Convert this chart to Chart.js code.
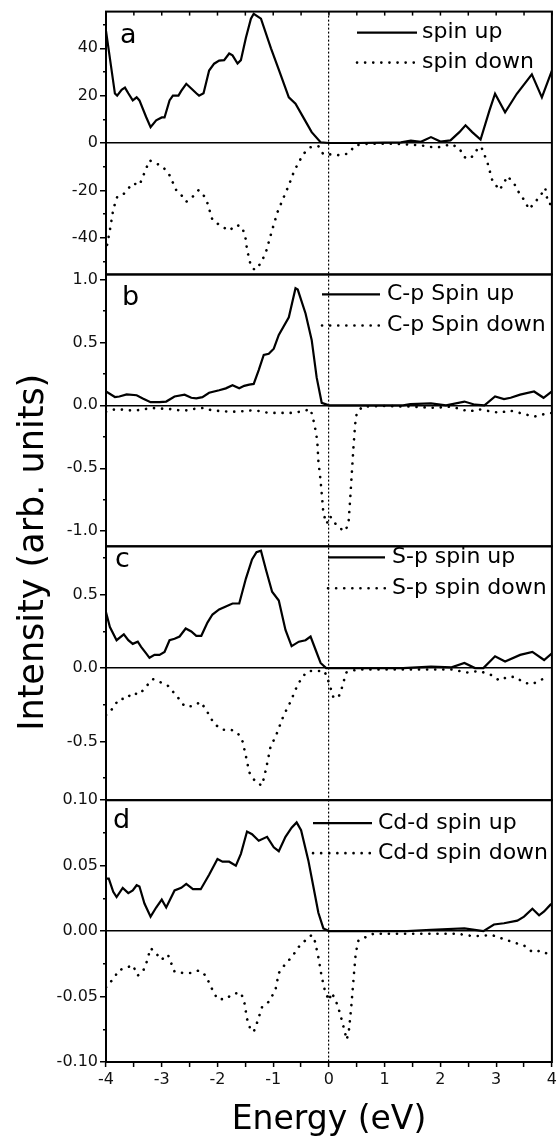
<!DOCTYPE html>
<html>
<head>
<meta charset="utf-8">
<script src="https://cdn.jsdelivr.net/npm/chart.js@4.4.1/dist/chart.umd.min.js"></script>
<style>
  html, body { margin: 0; padding: 0; background: #fff; }
</style>
</head>
<body>
<canvas id="dosChart" width="560" height="1140"></canvas>
<script>
// Energy ticks (bottom axis)
const xTicks = [-4, -3.5, -3, -2.5, -2, -1.5, -1, -0.5, 0, 0.5, 1, 1.5, 2, 2.5, 3, 3.5, 4];

// Y ticks per panel (labelled / unlabelled)
const aMajor = [-40, -20, 0, 20, 40];
const aMinor = [-50, -30, -10, 10, 30, 50];
const bMajor = [-1, -0.5, 0, 0.5, 1];
const bMinor = [-0.75, -0.25, 0.25, 0.75];
const cMajor = [-0.5, 0, 0.5];
const cMinor = [-0.75, -0.25, 0.25, 0.75];
const dMajor = [-0.1, -0.05, 0, 0.05, 0.1];
const dMinor = [-0.075, -0.025, 0.025, 0.075];

// Panel a: total DOS
const aUpE = [-4, -3.84, -3.8, -3.72, -3.66, -3.6, -3.52, -3.45, -3.4, -3.28, -3.2, -3.1, -3.0, -2.95, -2.86, -2.8, -2.7, -2.65, -2.56, -2.47, -2.38, -2.33, -2.25, -2.15, -2.06, -1.97, -1.88, -1.79, -1.73, -1.64, -1.58, -1.49, -1.4, -1.35, -1.22, -1.04, -0.9, -0.72, -0.6, -0.45, -0.31, -0.15, 0, 0.5, 1.0, 1.29, 1.47, 1.65, 1.83, 2.0, 2.18, 2.34, 2.45, 2.57, 2.72, 2.88, 2.98, 3.16, 3.37, 3.64, 3.82, 4.0];
const aUp = [47.4, 20.9, 20, 22.5, 23.4, 21, 18, 19.3, 18, 11, 6.7, 9.6, 10.8, 10.8, 18, 20, 20, 22, 25, 23, 21, 20, 21, 30.6, 33.5, 34.8, 35, 37.8, 37, 33.6, 35, 44.5, 52.5, 54.6, 52.5, 40, 31, 19.3, 16.6, 10.4, 4.6, 0.3, 0, 0, 0.2, 0.3, 1, 0.5, 2.5, 0.6, 1.1, 4.6, 7.5, 4.6, 1.5, 13.8, 20.8, 13, 20.8, 29, 19.3, 30.6];
const aDownE = [-3.98, -3.93, -3.87, -3.8, -3.7, -3.52, -3.4, -3.28, -3.22, -3.1, -2.98, -2.86, -2.74, -2.66, -2.56, -2.45, -2.34, -2.25, -2.18, -2.09, -1.94, -1.79, -1.66, -1.56, -1.5, -1.47, -1.4, -1.33, -1.22, -1.13, -1.02, -0.92, -0.81, -0.72, -0.63, -0.54, -0.45, -0.33, -0.19, -0.1, 0.05, 0.2, 0.35, 0.47, 0.7, 1.2, 1.65, 1.92, 2.2, 2.34, 2.43, 2.54, 2.65, 2.73, 2.84, 2.93, 3.06, 3.15, 3.2, 3.32, 3.41, 3.5, 3.59, 3.68, 3.79, 3.88, 3.93, 4.0];
const aDown = [-43, -36.8, -28, -22.8, -22, -17, -17.8, -10.8, -7.3, -8.6, -10, -13.6, -19.9, -21.6, -24.8, -22.8, -19.9, -22, -25.4, -32.5, -35, -37, -34.6, -35.4, -39.6, -45, -52, -53.6, -50.7, -46, -36.8, -29, -22.8, -17.8, -12.2, -8, -4.4, -1.8, -1.3, -4.8, -4.8, -5.2, -4.4, -1, -0.3, -0.3, -1, -2, -0.5, -2.3, -6, -6.6, -3, -1.5, -8, -15.7, -19.9, -16.4, -14, -17, -21, -24, -28, -25.4, -22.4, -19, -25.4, -26];

// Panel b: C-p
const bUpE = [-4, -3.84, -3.76, -3.63, -3.45, -3.34, -3.2, -3.04, -2.92, -2.77, -2.59, -2.47, -2.38, -2.27, -2.15, -1.97, -1.85, -1.73, -1.61, -1.52, -1.43, -1.35, -1.26, -1.17, -1.08, -0.99, -0.9, -0.72, -0.6, -0.56, -0.42, -0.31, -0.22, -0.13, 0, 1.33, 1.46, 1.83, 2.1, 2.43, 2.62, 2.79, 2.98, 3.14, 3.26, 3.43, 3.68, 3.85, 4];
const bUp = [0.11, 0.066, 0.07, 0.087, 0.08, 0.055, 0.025, 0.025, 0.03, 0.07, 0.085, 0.06, 0.055, 0.065, 0.1, 0.12, 0.135, 0.16, 0.135, 0.155, 0.165, 0.17, 0.28, 0.4, 0.41, 0.45, 0.56, 0.7, 0.93, 0.92, 0.73, 0.52, 0.22, 0.02, 0, 0, 0.01, 0.015, 0, 0.03, 0.005, 0, 0.07, 0.05, 0.06, 0.085, 0.11, 0.06, 0.11];
const bDownE = [-4, -3.94, -3.8, -3.6, -3.45, -3.3, -3.2, -3.05, -2.85, -2.68, -2.55, -2.45, -2.24, -2.1, -1.95, -1.8, -1.67, -1.5, -1.38, -1.26, -1.08, -0.94, -0.84, -0.68, -0.5, -0.33, -0.26, -0.21, -0.19, -0.15, -0.12, -0.1, -0.04, 0.02, 0.08, 0.17, 0.29, 0.35, 0.38, 0.41, 0.44, 0.47, 0.5, 0.6, 1.0, 1.46, 1.9, 2.2, 2.52, 2.67, 2.93, 3.07, 3.23, 3.38, 3.68, 3.86, 4];
const bDown = [-0.05, -0.04, -0.03, -0.04, -0.04, -0.03, -0.02, -0.025, -0.03, -0.04, -0.04, -0.03, -0.02, -0.04, -0.045, -0.05, -0.05, -0.045, -0.04, -0.045, -0.06, -0.06, -0.06, -0.06, -0.05, -0.03, -0.15, -0.28, -0.44, -0.6, -0.75, -0.86, -0.94, -0.88, -0.92, -0.97, -1.0, -0.94, -0.75, -0.54, -0.33, -0.15, -0.06, -0.01, -0.005, -0.01, -0.02, -0.01, -0.05, -0.03, -0.05, -0.06, -0.04, -0.055, -0.09, -0.07, -0.06];

// Panel c: S-p
const cUpE = [-4, -3.93, -3.81, -3.68, -3.6, -3.52, -3.43, -3.37, -3.28, -3.22, -3.13, -3.04, -2.95, -2.86, -2.77, -2.68, -2.57, -2.47, -2.38, -2.29, -2.18, -2.09, -1.97, -1.85, -1.73, -1.61, -1.49, -1.38, -1.3, -1.22, -1.13, -1.02, -0.9, -0.78, -0.67, -0.54, -0.42, -0.33, -0.24, -0.15, -0.05, 1.33, 1.83, 2.2, 2.43, 2.62, 2.77, 2.98, 3.16, 3.43, 3.65, 3.86, 4];
const cUp = [0.38, 0.28, 0.19, 0.23, 0.19, 0.165, 0.18, 0.145, 0.1, 0.07, 0.09, 0.09, 0.11, 0.19, 0.2, 0.215, 0.27, 0.25, 0.22, 0.22, 0.31, 0.365, 0.4, 0.42, 0.44, 0.44, 0.61, 0.74, 0.79, 0.8, 0.67, 0.52, 0.46, 0.26, 0.15, 0.18, 0.19, 0.215, 0.125, 0.035, 0, 0, 0.01, 0.005, 0.035, 0, 0, 0.08, 0.045, 0.09, 0.11, 0.055, 0.1];
const cDownE = [-4, -3.93, -3.84, -3.76, -3.63, -3.54, -3.4, -3.28, -3.16, -3.0, -2.89, -2.71, -2.59, -2.45, -2.3, -2.18, -2.06, -1.91, -1.76, -1.64, -1.55, -1.49, -1.43, -1.31, -1.2, -1.13, -1.05, -0.94, -0.81, -0.69, -0.58, -0.48, -0.37, -0.08, 0.0, 0.08, 0.17, 0.22, 0.31, 0.5, 1.5, 2.2, 2.48, 2.7, 2.9, 3.06, 3.2, 3.34, 3.5, 3.65, 3.8, 3.95];
const cDown = [-0.32, -0.3, -0.25, -0.21, -0.21, -0.17, -0.18, -0.125, -0.075, -0.1, -0.12, -0.2, -0.26, -0.26, -0.23, -0.3, -0.38, -0.42, -0.42, -0.44, -0.5, -0.6, -0.71, -0.78, -0.8, -0.69, -0.54, -0.45, -0.32, -0.23, -0.13, -0.06, -0.02, -0.02, -0.1, -0.2, -0.2, -0.15, -0.03, -0.01, -0.01, -0.01, -0.03, -0.02, -0.045, -0.085, -0.06, -0.06, -0.1, -0.11, -0.08, -0.06];

// Panel d: Cd-d
const dUpE = [-4, -3.95, -3.87, -3.81, -3.7, -3.6, -3.52, -3.45, -3.4, -3.31, -3.2, -3.1, -3.0, -2.92, -2.77, -2.65, -2.56, -2.44, -2.3, -2.15, -2.0, -1.91, -1.79, -1.67, -1.58, -1.47, -1.38, -1.26, -1.11, -0.99, -0.9, -0.78, -0.67, -0.58, -0.5, -0.37, -0.28, -0.19, -0.1, 0, 1.4, 1.83, 2.43, 2.77, 2.96, 3.14, 3.38, 3.5, 3.65, 3.77, 3.86, 3.97, 4];
const dUp = [0.04, 0.04, 0.03, 0.026, 0.033, 0.029, 0.031, 0.035, 0.034, 0.021, 0.011, 0.018, 0.024, 0.018, 0.031, 0.033, 0.036, 0.032, 0.032, 0.043, 0.055, 0.053, 0.053, 0.05, 0.059, 0.076, 0.074, 0.069, 0.072, 0.064, 0.061, 0.072, 0.079, 0.083, 0.077, 0.054, 0.034, 0.014, 0.002, 0, 0, 0.001, 0.002, 0, 0.005, 0.006, 0.008, 0.011, 0.017, 0.012, 0.015, 0.02, 0.021];
const dDownE = [-4, -3.96, -3.84, -3.78, -3.63, -3.52, -3.43, -3.34, -3.28, -3.2, -3.1, -3.01, -2.89, -2.77, -2.62, -2.47, -2.33, -2.21, -2.09, -2.0, -1.85, -1.73, -1.58, -1.52, -1.47, -1.41, -1.35, -1.29, -1.2, -1.08, -0.96, -0.9, -0.78, -0.67, -0.54, -0.42, -0.31, -0.25, -0.19, -0.13, -0.07, 0.0, 0.05, 0.13, 0.2, 0.26, 0.32, 0.36, 0.4, 0.44, 0.48, 0.53, 0.8, 1.6, 2.3, 2.6, 2.92, 3.06, 3.2, 3.34, 3.5, 3.65, 3.8, 3.95, 4.0];
const dDown = [-0.043, -0.041, -0.035, -0.03, -0.028, -0.026, -0.034, -0.031, -0.025, -0.013, -0.017, -0.022, -0.018, -0.031, -0.032, -0.032, -0.03, -0.034, -0.045, -0.052, -0.052, -0.048, -0.047, -0.054, -0.067, -0.075, -0.077, -0.07, -0.058, -0.054, -0.045, -0.032, -0.025, -0.02, -0.012, -0.007, -0.003, -0.008, -0.02, -0.035, -0.046, -0.053, -0.047, -0.054, -0.063, -0.073, -0.083, -0.075, -0.058, -0.037, -0.017, -0.007, -0.002, -0.002, -0.002, -0.004, -0.003, -0.005, -0.007, -0.009, -0.011, -0.016, -0.015, -0.018, -0.019];

// Panel letters and legend labels
const panelLetters = ['a', 'b', 'c', 'd'];
const upLabels = ['spin up', 'C-p Spin up', 'S-p spin up', 'Cd-d spin up'];
const downLabels = ['spin down', 'C-p Spin down', 'S-p spin down', 'Cd-d spin down'];

const panelIds = ['ya', 'yb', 'yc', 'yd'];

// Legend / letter placement inside each panel (relative to plot left and panel top)
const panelLayout = {
  ya: { x1: 251, x2: 311, tx: 316, rows: [21, 51], lx: 14, ly: 31 },
  yb: { x1: 216, x2: 274, tx: 281, rows: [20, 51], lx: 16, ly: 31 },
  yc: { x1: 222, x2: 279, tx: 286, rows: [11, 42], lx: 9, ly: 21 },
  yd: { x1: 207, x2: 266, tx: 272, rows: [23, 53], lx: 7, ly: 28 }
};

const FONT = "'DejaVu Sans', sans-serif";
Chart.defaults.font.family = FONT;
Chart.defaults.color = '#000';

const UP_STYLE = { borderColor: '#000', borderWidth: 2.2, borderDash: [], borderCapStyle: 'butt' };
const DOWN_STYLE = { borderColor: '#000', borderWidth: 2.6, borderDash: [0.1, 8], borderCapStyle: 'round' };

function points(xs, ys) {
  return xs.map((x, i) => ({ x: x, y: ys[i] }));
}

function curve(label, xs, ys, axis, style) {
  return Object.assign({
    label: label,
    data: points(xs, ys),
    yAxisID: axis,
    xAxisID: 'x',
    pointRadius: 0,
    tension: 0,
    fill: false
  }, style);
}

function panelAxis(major, minor, min, max, weight, digits) {
  const all = major.concat(minor).sort((p, q) => p - q);
  return {
    type: 'linear',
    position: 'left',
    stack: 'panels',
    stackWeight: weight,
    min: min,
    max: max,
    bounds: 'data',
    afterBuildTicks: s => { s.ticks = all.map(v => ({ value: v })); },
    afterFit: s => { s.width = 52; },
    ticks: {
      autoSkip: false,
      font: { size: 16 },
      color: '#111',
      padding: 2,
      callback: v => major.includes(v) ? v.toFixed(digits) : ''
    },
    grid: {
      color: c => (c.tick && c.tick.value === 0) ? '#000' : 'transparent',
      lineWidth: 1.5,
      tickLength: 6,
      tickColor: '#000',
      tickWidth: 1.5,
      tickBorderDash: c => (c.tick && major.includes(c.tick.value)) ? [] : [0, 3, 3, 0]
    },
    border: { display: true, color: '#000', width: 2 }
  };
}

// empty left axis that only carries the shared y title
function titleAxis(weight, width, title) {
  return {
    type: 'linear',
    position: 'left',
    stack: 'title',
    stackWeight: weight,
    afterFit: s => { s.width = width; },
    ticks: { display: false },
    grid: { display: false, drawTicks: false },
    border: { display: false },
    title: title
  };
}

// Frames, top ticks, panel letters and in-panel legends
const panelDecor = {
  id: 'panelDecor',
  afterDraw(chart) {
    const { ctx, chartArea, scales } = chart;
    const left = chartArea.left, right = chartArea.right;
    ctx.save();

    ctx.strokeStyle = '#000';
    ctx.lineWidth = 2;
    panelIds.forEach(id => {
      const s = scales[id];
      ctx.strokeRect(left, s.top, right - left, s.bottom - s.top);
    });

    // inward ticks along the very top
    ctx.lineWidth = 1.5;
    const top = scales.ya.top;
    xTicks.forEach(v => {
      const px = scales.x.getPixelForValue(v);
      ctx.beginPath();
      ctx.moveTo(px, top);
      ctx.lineTo(px, top + 4);
      ctx.stroke();
    });

    panelIds.forEach((id, i) => {
      const s = scales[id];
      const L = panelLayout[id];

      ctx.fillStyle = '#000';
      ctx.font = '27px ' + FONT;
      ctx.textAlign = 'left';
      ctx.textBaseline = 'alphabetic';
      ctx.fillText(panelLetters[i], left + L.lx, s.top + L.ly);

      const rows = [[upLabels[i], UP_STYLE], [downLabels[i], DOWN_STYLE]];
      rows.forEach((row, r) => {
        const y = s.top + L.rows[r];
        const st = row[1];
        ctx.beginPath();
        ctx.lineWidth = st.borderWidth;
        ctx.setLineDash(st.borderDash);
        ctx.lineCap = st.borderCapStyle;
        ctx.moveTo(left + L.x1, y);
        ctx.lineTo(left + L.x2, y);
        ctx.stroke();
        ctx.setLineDash([]);
        ctx.font = '22px ' + FONT;
        ctx.textBaseline = 'middle';
        ctx.fillText(row[0], left + L.tx, y);
      });
    });

    ctx.restore();
  }
};

new Chart(document.getElementById('dosChart'), {
  type: 'line',
  data: {
    datasets: [
      curve(upLabels[0], aUpE, aUp, 'ya', UP_STYLE),
      curve(downLabels[0], aDownE, aDown, 'ya', DOWN_STYLE),
      curve(upLabels[1], bUpE, bUp, 'yb', UP_STYLE),
      curve(downLabels[1], bDownE, bDown, 'yb', DOWN_STYLE),
      curve(upLabels[2], cUpE, cUp, 'yc', UP_STYLE),
      curve(downLabels[2], cDownE, cDown, 'yc', DOWN_STYLE),
      curve(upLabels[3], dUpE, dUp, 'yd', UP_STYLE),
      curve(downLabels[3], dDownE, dDown, 'yd', DOWN_STYLE)
    ]
  },
  options: {
    responsive: false,
    animation: false,
    layout: { padding: { top: 11, right: 5, bottom: 0, left: 0 } },
    plugins: { legend: { display: false }, tooltip: { enabled: false } },
    scales: {
      x: {
        type: 'linear',
        position: 'bottom',
        min: -4,
        max: 4,
        bounds: 'data',
        afterBuildTicks: s => { s.ticks = xTicks.map(v => ({ value: v })); },
        afterFit: s => { s.height = 78; },
        ticks: {
          autoSkip: false,
          maxRotation: 0,
          font: { size: 16 },
          color: '#111',
          padding: 3,
          callback: v => Number.isInteger(v) ? String(v) : ''
        },
        grid: {
          color: c => (c.tick && c.tick.value === 0) ? '#000' : 'transparent',
          lineWidth: 1.2,
          tickLength: 5,
          tickColor: '#000',
          tickWidth: 1.5
        },
        border: { display: true, color: '#000', width: 2, dash: [2, 2] },
        title: { display: true, text: 'Energy (eV)', font: { size: 33 }, color: '#000', padding: { top: 0, bottom: 0 } }
      },
      yd: panelAxis(dMajor, dMinor, -0.1, 0.1, 262, 2),
      yc: panelAxis(cMajor, cMinor, -0.9, 0.83, 254, 1),
      yb: panelAxis(bMajor, bMinor, -1.12, 1.04, 272, 1),
      ya: panelAxis(aMajor, aMinor, -55.5, 55.5, 263, 0),
      yt: titleAxis(1020, 54, {
        display: true, text: 'Intensity (arb. units)', font: { size: 35 }, color: '#000', padding: { top: 13, bottom: 0 }
      }),
      ytPad: titleAxis(31, 0, { display: false })
    }
  },
  plugins: [panelDecor]
});
</script>
</body>
</html>
